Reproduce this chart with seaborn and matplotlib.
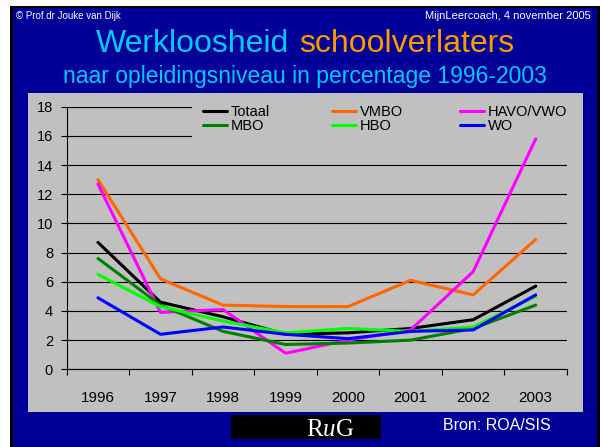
import numpy as np
import pandas as pd
import matplotlib
matplotlib.use("Agg")
import matplotlib.pyplot as plt
from matplotlib.patches import Rectangle
from matplotlib.lines import Line2D
from matplotlib.legend import Legend
import seaborn as sns

# ---------------------------------------------------------------------------
# Data
# ---------------------------------------------------------------------------
years = [1996, 1997, 1998, 1999, 2000, 2001, 2002, 2003]

totaal = [8.7, 4.6, 3.6, 2.4, 2.5, 2.8, 3.4, 5.7]
vmbo = [13.0, 6.2, 4.4, 4.3, 4.3, 6.1, 5.1, 8.9]
havo_vwo = [12.7, 3.9, 4.1, 1.1, 2.0, 2.7, 6.7, 15.8]
mbo = [7.6, 4.4, 2.6, 1.7, 1.8, 2.0, 2.8, 4.4]
hbo = [6.5, 4.3, 3.3, 2.5, 2.8, 2.6, 2.9, 5.0]
wo = [4.9, 2.4, 2.9, 2.4, 2.1, 2.6, 2.7, 5.1]

groups = ["Totaal", "VMBO", "HAVO/VWO", "MBO", "HBO", "WO"]
colors = ["#000000", "#FF6600", "#FF00FF", "#008000", "#00FF00", "#0000FF"]

df = pd.DataFrame({
    "jaar": years * len(groups),
    "groep": np.repeat(groups, len(years)),
    "pct": totaal + vmbo + havo_vwo + mbo + hbo + wo,
})

# ---------------------------------------------------------------------------
# Style
# ---------------------------------------------------------------------------
sns.set_style("ticks")
plt.rcParams["font.family"] = ["Liberation Sans", "DejaVu Sans"]
plt.rcParams["text.color"] = "black"
plt.rcParams["mathtext.fontset"] = "custom"
plt.rcParams["mathtext.rm"] = "Liberation Serif"
plt.rcParams["mathtext.it"] = "Liberation Serif:italic"

W, H = 602, 447
SLIDE_BLUE = "#000099"
PANEL_GRAY = "#C0C0C0"


def fx(x):
    return x / W


def fy(y):
    return 1 - y / H


def px_rect(x0, y0, x1, y1, color, z=0):
    r = Rectangle((fx(x0), fy(y1)), fx(x1) - fx(x0), fy(y0) - fy(y1),
                  transform=fig.transFigure, facecolor=color,
                  edgecolor="none", zorder=z)
    fig.add_artist(r)
    return r


fig = plt.figure(figsize=(W / 100, H / 100), dpi=100)
fig.patch.set_facecolor("white")

# slide frame, blue background and grey chart panel
px_rect(10, 6, 600, 447, "black", z=-3)
px_rect(12.5, 7.5, 596.5, 447, SLIDE_BLUE, z=-2)
px_rect(28, 92.5, 583, 411.7, PANEL_GRAY, z=-1)

# ---------------------------------------------------------------------------
# Header texts
# ---------------------------------------------------------------------------
fig.text(fx(16.5), fy(19), "\u00a9 Prof.dr Jouke van Dijk", color="white",
         fontsize=7, ha="left", va="baseline")
fig.text(fx(591), fy(19), "MijnLeercoach, 4 november 2005", color="white",
         fontsize=8, ha="right", va="baseline")

fig.text(fx(289), fy(51.7), "Werkloosheid", color="#00CCFF",
         fontsize=23, ha="right", va="baseline")
fig.text(fx(299), fy(51.7), "schoolverlaters", color="#FF9900",
         fontsize=23, ha="left", va="baseline")
fig.text(fx(305), fy(83.3), "naar opleidingsniveau in percentage 1996-2003",
         color="#00CCFF", fontsize=16.5, ha="center", va="baseline")

# ---------------------------------------------------------------------------
# Chart
# ---------------------------------------------------------------------------
ax = fig.add_axes([fx(66.7), fy(369.3), fx(567) - fx(66.7),
                   fy(106.7) - fy(369.3)])
ax.set_facecolor("none")

sns.lineplot(
    data=df, x="jaar", y="pct", hue="groep", hue_order=groups,
    palette=colors, linewidth=2.2, legend=False, ax=ax
)

ax.set_xlim(1995.5, 2003.5)
ax.set_ylim(0, 18)
ax.set_xlabel("")
ax.set_ylabel("")

ax.set_xticks(np.arange(1995.5, 2004, 1.0))
ax.set_xticklabels([])
ax.set_xticks(years, minor=True)
ax.set_xticklabels([str(y) for y in years], minor=True)
ax.tick_params(axis="x", which="major", direction="out", length=4.3,
               width=0.8, color="black")
ax.tick_params(axis="x", which="minor", length=0, pad=15.5,
               labelsize=11, labelcolor="black")

ax.set_yticks(range(0, 19, 2))
ax.tick_params(axis="y", direction="out", length=4.3, width=0.8,
               color="black", pad=5.5, labelsize=10.5, labelcolor="black")

ax.yaxis.grid(True, color="black", linewidth=0.8)
ax.xaxis.grid(False)
ax.set_axisbelow(True)

for side in ["top", "right"]:
    ax.spines[side].set_visible(False)
for side in ["left", "bottom"]:
    ax.spines[side].set_color("black")
    ax.spines[side].set_linewidth(0.8)

# grey box behind the legend hides the upper grid lines
cover = Rectangle((fx(192), fy(139)), fx(581) - fx(192), fy(100) - fy(139),
                  transform=fig.transFigure, facecolor=PANEL_GRAY,
                  edgecolor="none", zorder=1, clip_on=False)
ax.add_patch(cover)

# legend: three columns, two rows
legend_cols = [(203, [0, 3]), (332, [1, 4]), (460, [2, 5])]
for x_left, idx in legend_cols:
    handles = [Line2D([], [], color=colors[i], linewidth=2.2) for i in idx]
    labels = [groups[i] for i in idx]
    leg = Legend(
        ax, handles, labels, loc="upper left",
        bbox_to_anchor=(fx(x_left), fy(105)), bbox_transform=fig.transFigure,
        frameon=False, borderpad=0, borderaxespad=0,
        handlelength=1.64, handletextpad=0.25, labelspacing=0.0,
        prop={"size": 10.5}, labelcolor="black",
    )
    leg.set_zorder(5)
    ax.add_artist(leg)

# ---------------------------------------------------------------------------
# Footer
# ---------------------------------------------------------------------------
px_rect(231, 415, 381, 439.3, "black", z=1)
fig.text(fx(330), fy(436), r"R$\mathit{u}$G", color="white",
         fontsize=18, family="Liberation Serif", ha="center", va="baseline",
         zorder=2)
fig.text(fx(443), fy(430), "Bron: ROA/SIS", color="white",
         fontsize=11.5, ha="left", va="baseline")

fig.savefig("out.png", dpi=100, facecolor=fig.get_facecolor())
